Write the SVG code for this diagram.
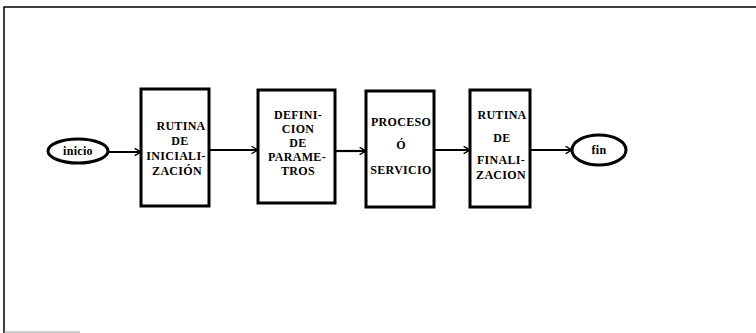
<svg xmlns="http://www.w3.org/2000/svg" width="756" height="333" viewBox="0 0 756 333">
<defs>
<style>
.box{fill:#fff;stroke:#000;stroke-width:3}
.ell{fill:#fff;stroke:#000;stroke-width:3}
.t{font-family:"Liberation Serif","Times New Roman",serif;font-weight:bold;font-size:12px;letter-spacing:0.3px;fill:#000;text-anchor:middle}
.c{stroke:#000;stroke-width:2.2;fill:none}
.frame{stroke:#000;stroke-width:1.5;fill:none}
</style>
<marker id="ah" viewBox="0 0 10 10" refX="9" refY="5" markerWidth="8" markerHeight="10" markerUnits="userSpaceOnUse" orient="auto">
<path d="M1,0.5 L9,5 L1,9.5" fill="none" stroke="#000" stroke-width="1.6"/>
</marker>
</defs>
<rect width="756" height="333" fill="#fff"/>
<path class="frame" d="M4,333 L4,7 L756,7"/>
<path d="M4,332 L80,332" stroke="#999" stroke-width="1" fill="none"/>
<g id="connectors">
<path class="c" d="M108,152 L141,152" marker-end="url(#ah)"/>
<path class="c" d="M209,150 L258,150" marker-end="url(#ah)"/>
<path class="c" d="M335,151 L366,151" marker-end="url(#ah)"/>
<path class="c" d="M434,150 L470,150" marker-end="url(#ah)"/>
<path class="c" d="M530,150 L572,150" marker-end="url(#ah)"/>
</g>
<g id="inicio">
<ellipse class="ell" cx="78" cy="151" rx="30" ry="12"/>
<text class="t" x="78" y="155">inicio</text>
</g>
<g id="rutina-inicializacion">
<rect class="box" x="141" y="89" width="68" height="117"/>
<text class="t" x="181" y="130">RUTINA</text>
<text class="t" x="180" y="145">DE</text>
<text class="t" x="176" y="160">INICIALI-</text>
<text class="t" x="177" y="175">ZACIÓN</text>
</g>
<g id="definicion-parametros">
<rect class="box" x="258" y="90" width="77" height="113"/>
<text class="t" x="298" y="119">DEFINI-</text>
<text class="t" x="298" y="133">CION</text>
<text class="t" x="298" y="147">DE</text>
<text class="t" x="297" y="161">PARAME-</text>
<text class="t" x="298" y="175">TROS</text>
</g>
<g id="proceso-servicio">
<rect class="box" x="366" y="91" width="68" height="116"/>
<text class="t" x="401" y="126">PROCESO</text>
<text class="t" x="401" y="149">Ó</text>
<text class="t" x="401" y="174">SERVICIO</text>
</g>
<g id="rutina-finalizacion">
<rect class="box" x="470" y="90" width="60" height="117"/>
<text class="t" x="502" y="119">RUTINA</text>
<text class="t" x="502" y="142">DE</text>
<text class="t" x="501" y="164">FINALI-</text>
<text class="t" x="501" y="179">ZACION</text>
</g>
<g id="fin">
<ellipse class="ell" cx="599" cy="150" rx="27" ry="15"/>
<text class="t" x="599" y="154">fin</text>
</g>
</svg>
